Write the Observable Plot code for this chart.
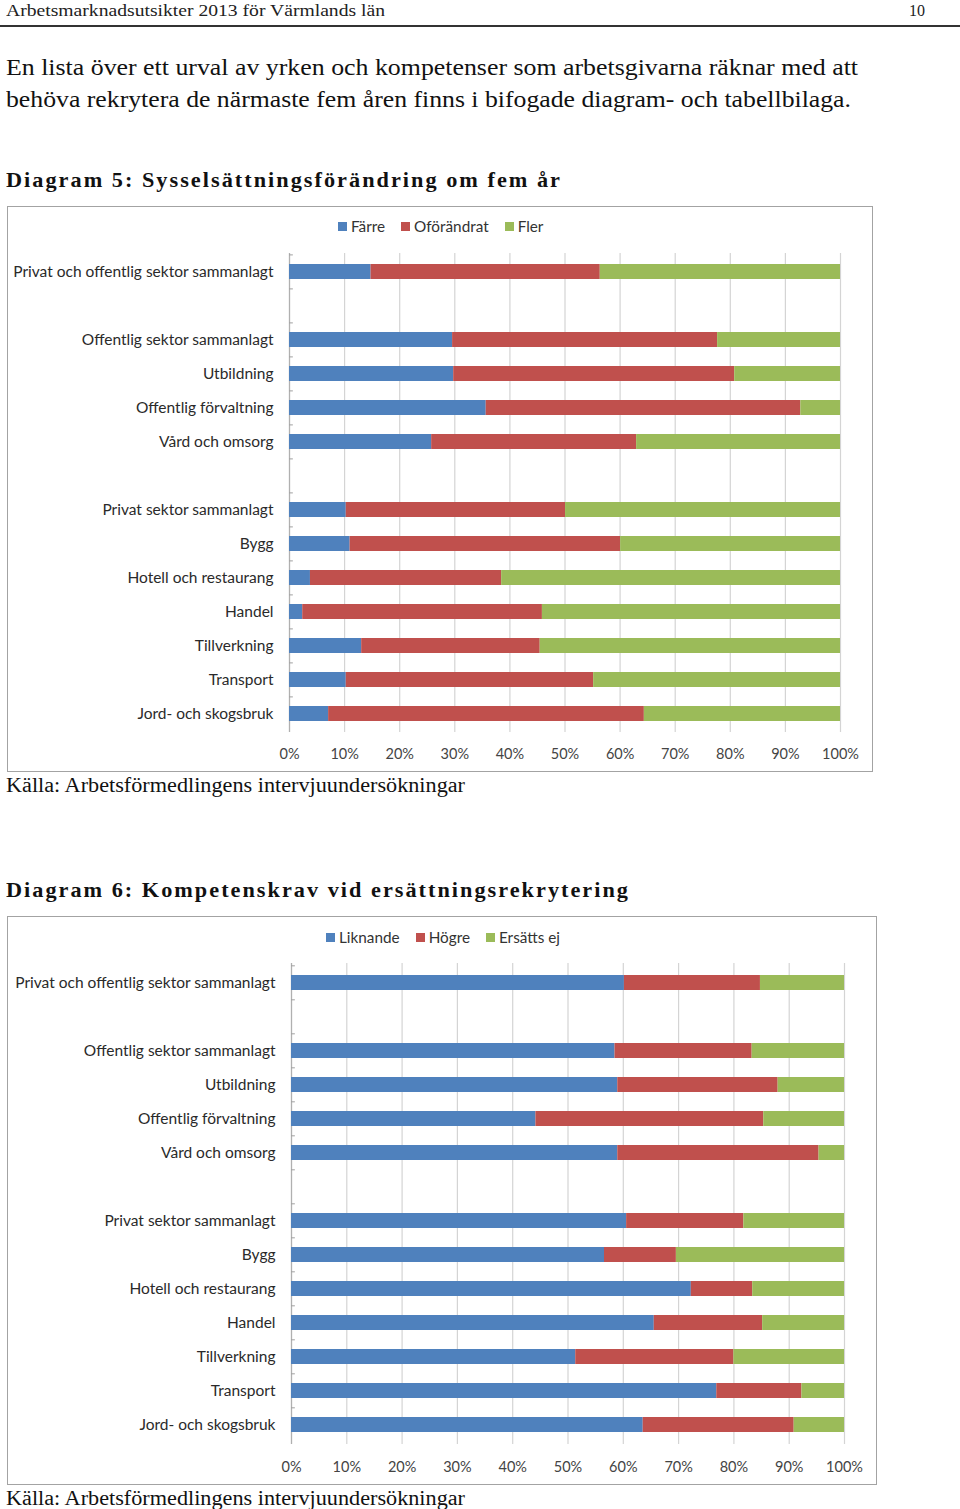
<!DOCTYPE html>
<html>
<head>
<meta charset="utf-8">
<script src="https://cdn.jsdelivr.net/npm/d3@7"></script>
<script src="https://cdn.jsdelivr.net/npm/@observablehq/plot@0.6"></script>
<style>
  html, body { margin: 0; padding: 0; background: #fff; }
  body { width: 960px; height: 1509px; position: relative; overflow: hidden; }
  .t { position: absolute; white-space: nowrap; font-family: "Liberation Serif", "DejaVu Serif", serif; color: #111; line-height: 1; transform-origin: 0 50%; display: inline-block; }
  .rule { position: absolute; left: 0; width: 960px; height: 1.5px; background: #333; }
  .frame { position: absolute; border: 1.5px solid #a3a3a3; box-sizing: border-box; background: #fff; }
  .legend { position: absolute; display: flex; align-items: center; font-family: Lato, "Open Sans", sans-serif; font-size: 15.3px; color: #333; line-height: 1; }
  .legend .sw { display: inline-block; width: 9px; height: 9px; margin-right: 4px; }
  .legend .item { display: flex; align-items: center; margin-right: 16px; }
  .plot { position: absolute; }
  .plot svg { overflow: visible; }
</style>
</head>
<body>
<div class="t" data-w="379" style="left:6px;top:2px;font-size:17px;color:#222;">Arbetsmarknadsutsikter 2013 för Värmlands län</div>
<div class="t" data-w="16" style="left:909px;top:2px;font-size:17px;color:#222;">10</div>
<div class="rule" style="top:25px;"></div>
<div class="t" data-w="852" style="left:6px;top:56px;font-size:23px;">En lista över ett urval av yrken och kompetenser som arbetsgivarna räknar med att</div>
<div class="t" data-w="845" style="left:6px;top:88px;font-size:23px;">behöva rekrytera de närmaste fem åren finns i bifogade diagram- och tabellbilaga.</div>
<div class="t" data-w="556" style="left:6px;top:169px;font-size:22px;font-weight:bold;letter-spacing:2px;">Diagram 5: Sysselsättningsförändring om fem år</div>

<div class="frame" style="left:7px;top:206px;width:866px;height:566px;"></div>
<div class="legend" id="leg1" style="left:338px;top:219px;"></div>
<div class="plot" id="chart1" style="left:7px;top:240px;"></div>
<div class="t" data-w="459" style="left:6px;top:775px;font-size:20px;">Källa: Arbetsförmedlingens intervjuundersökningar</div>

<div class="t" data-w="624" style="left:6px;top:879px;font-size:22px;font-weight:bold;letter-spacing:2px;">Diagram 6: Kompetenskrav vid ersättningsrekrytering</div>
<div class="frame" style="left:7px;top:916px;width:870px;height:569px;"></div>
<div class="legend" id="leg2" style="left:326px;top:930px;"></div>
<div class="plot" id="chart2" style="left:7px;top:950px;"></div>
<div class="t" data-w="459" style="left:6px;top:1488px;font-size:20px;">Källa: Arbetsförmedlingens intervjuundersökningar</div>

<script>
// ---------- Data ----------
const categories = [
  "Privat och offentlig sektor sammanlagt",
  "",
  "Offentlig sektor sammanlagt",
  "Utbildning",
  "Offentlig förvaltning",
  "Vård och omsorg",
  " ",
  "Privat sektor sammanlagt",
  "Bygg",
  "Hotell och restaurang",
  "Handel",
  "Tillverkning",
  "Transport",
  "Jord- och skogsbruk"
];
const rowCategories = categories.filter(c => c.trim() !== "");

// Diagram 5 (percent)
const series1 = ["Färre", "Oförändrat", "Fler"];
const farre      = [14.8, 29.6, 29.8, 35.7, 25.8, 10.3, 11.0, 3.8, 2.4, 13.1, 10.3, 7.1];
const oforandrat = [41.6, 48.1, 51.0, 57.1, 37.2, 39.8, 49.1, 34.7, 43.5, 32.4, 44.9, 57.3];
const fler       = [43.6, 22.3, 19.2, 7.2, 37.0, 49.9, 39.9, 61.5, 54.1, 54.5, 44.8, 35.6];

// Diagram 6 (percent)
const series2 = ["Liknande", "Högre", "Ersätts ej"];
const liknande  = [60.2, 58.5, 59.0, 44.2, 59.0, 60.6, 56.6, 72.3, 65.6, 51.4, 76.9, 63.6];
const hogre     = [24.6, 24.8, 29.0, 41.2, 36.4, 21.2, 13.0, 11.1, 19.6, 28.6, 15.4, 27.3];
const ersattsEj = [15.2, 16.7, 12.0, 14.6, 4.6, 18.2, 30.4, 16.6, 14.8, 20.0, 7.7, 9.1];

const xTicks = [0, 10, 20, 30, 40, 50, 60, 70, 80, 90, 100];
const colors = ["#4f81bd", "#c0504d", "#9bbb59"];

function longData(seriesNames, arrays) {
  const out = [];
  seriesNames.forEach((s, i) => {
    rowCategories.forEach((c, j) => out.push({cat: c, series: s, value: arrays[i][j]}));
  });
  return out;
}

function legend(id, names) {
  const el = document.getElementById(id);
  names.forEach((n, i) => {
    const it = document.createElement("span");
    it.className = "item";
    it.innerHTML = `<span class="sw" style="background:${colors[i]}"></span>${n}`;
    el.appendChild(it);
  });
}

function chart(data, names, opts) {
  return Plot.plot({
    width: opts.width,
    height: opts.height,
    marginLeft: opts.marginLeft,
    marginRight: opts.marginRight,
    marginTop: opts.marginTop,
    marginBottom: opts.marginBottom,
    style: {fontFamily: "Lato, 'Open Sans', sans-serif", fontSize: "14px", color: "#333", background: "transparent"},
    x: {domain: [0, 100], label: null},
    y: {domain: categories, paddingInner: 0.57, paddingOuter: 0.285, label: null},
    color: {domain: names, range: colors},
    marks: [
      Plot.ruleX(xTicks, {stroke: "#d4d4d4", strokeWidth: 1.2}),
      Plot.ruleX([0], {stroke: "#b0b0b0", strokeWidth: 1.2}),
      Plot.ruleY(categories, {y: d => d, x1: 0, x2: 0.7, dy: -opts.step / 2, stroke: "#a0a0a0"}),
      Plot.barX(data, {x: "value", y: "cat", fill: "series", inset: 0}),
      Plot.axisX(xTicks, {tickSize: 0, tickPadding: opts.tickPad, tickFormat: d => d + "%", fill: "#444", fontSize: 14.5, label: null}),
      Plot.axisY({tickSize: 0, tickPadding: 16, tickFormat: d => d.trim(), fill: "#2a2a2a", fontSize: 15.5, label: null})
    ]
  });
}

legend("leg1", series1);
legend("leg2", series2);

document.getElementById("chart1").appendChild(chart(longData(series1, [farre, oforandrat, fler]), series1,
  {width: 866, height: 530, marginLeft: 282, marginRight: 33, marginTop: 13, marginBottom: 38, step: 479 / 14, tickPad: 16}));
document.getElementById("chart2").appendChild(chart(longData(series2, [liknande, hogre, ersattsEj]), series2,
  {width: 870, height: 530, marginLeft: 284, marginRight: 33, marginTop: 13, marginBottom: 36, step: 481 / 14, tickPad: 17}));

// fit serif text lines to widths seen in the reference
function fit() {
  document.querySelectorAll(".t[data-w]").forEach(el => {
    el.style.transform = "none";
    const w = el.getBoundingClientRect().width;
    const target = +el.dataset.w;
    el.style.transform = `scaleX(${target / w})`;
  });
}
fit();
if (document.fonts && document.fonts.ready) document.fonts.ready.then(fit);
</script>
</body>
</html>
